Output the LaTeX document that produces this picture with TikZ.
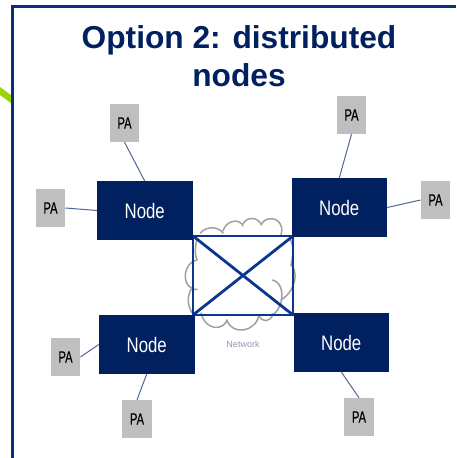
\documentclass[tikz,border=0pt]{standalone}
\usepackage{fontspec}
\setmainfont{Liberation Sans}
\definecolor{navy}{HTML}{002060}
\definecolor{framec}{HTML}{0A2F78}
\definecolor{linkc}{HTML}{4F6796}
\definecolor{xc}{HTML}{0B3690}
\definecolor{pag}{HTML}{BFBFBF}
\definecolor{cloudc}{HTML}{A0A0A0}
\definecolor{netc}{HTML}{8E99AD}
\definecolor{greenc}{HTML}{99D600}
\tikzset{
  nodebox/.style={fill=navy,draw=none,minimum width=95.5pt,minimum height=58.5pt,inner sep=0pt,text=white},
  pabox/.style={fill=pag,draw=none,minimum width=29.5pt,minimum height=38pt,inner sep=0pt,text=black},
  link/.style={draw=linkc,line width=1pt},
  cross/.style={draw=xc,line width=2.8pt,line cap=round,line join=round},
  cloudline/.style={draw=cloudc,line width=1.5pt,line cap=round},
}
\newcommand{\labN}{\scalebox{0.8}[1]{\fontsize{21}{21}\selectfont Node}}
\newcommand{\labP}{\scalebox{0.68}[1]{\fontsize{16.5}{16.5}\selectfont\addfontfeatures{FakeBold=0.5}PA}}
\begin{document}
\begin{tikzpicture}[x=1pt,y=-1pt]
\useasboundingbox (0,0) rectangle (456,458);
\fill[white] (0,0) rectangle (456,458);
% green stripe and frame
\fill[greenc] (0,87) -- (11.5,95.5) -- (11.5,103.5) -- (0,95) -- cycle;
\draw[framec,line width=2.5pt] (12.5,458) -- (12.5,6.5) -- (456,6.5);
% title
\node[text=navy,font=\bfseries\fontsize{31.7}{38}\selectfont,align=center,inner sep=0pt] (title) at (239,56) {Option 2: distributed\\nodes};
% cloud
\begin{scope}[cloudline]
\draw (200.5,233) .. controls (206,226) and (218,226) .. (223,233);
\draw (223,231) .. controls (226,220) and (240,218) .. (243,226);
\draw (243,224) .. controls (247,216) and (258,217) .. (261.5,225);
\draw (261.5,224) .. controls (266,216) and (279,217) .. (281.5,227) .. controls (282,230) and (282,232) .. (281,235);
\draw (290,239) .. controls (293,243) and (294,252) .. (291,265);
\draw (291,265) .. controls (298,270) and (297,290) .. (281,300);
\draw (272.5,280) .. controls (282,282) and (284,296) .. (280,305) .. controls (277,312) and (274,315) .. (272,314);
\draw (259,316) .. controls (262,322) and (270,323) .. (273,314);
\draw (259,315) .. controls (256,332) and (232,336) .. (227,320);
\draw (227,320) .. controls (224,330) and (206,332) .. (201,313);
\draw (197,260) .. controls (184,262) and (181,284) .. (192,288);
\draw (192,288) .. controls (196,291) and (196,289) .. (197,289);
\draw (192,288) .. controls (186,296) and (188,308) .. (193,314);
\draw (197,260) .. controls (194,253) and (196,244) .. (197,238);
\end{scope}
\node[text=netc,font=\fontsize{9}{9}\selectfont,inner sep=0pt] (netlab) at (243,344) {Network};
% central square
\coordinate (sqa) at (193,236);
\coordinate (sqb) at (293,236);
\coordinate (sqc) at (293,315);
\coordinate (sqd) at (193,315);
\draw[cross] (sqa) -- (sqb) -- (sqc) -- (sqd) -- cycle;
\draw[cross] (sqa) -- (sqc);
\draw[cross] (sqb) -- (sqd);
% nodes
\node[nodebox] (n1) at (144.75,210.5) {\labN};
\node[nodebox] (n2) at (339.25,207.5) {\labN};
\node[nodebox] (n3) at (146.75,344.5) {\labN};
\node[nodebox] (n4) at (341.25,342.5) {\labN};
% PA boxes
\node[pabox] (p1) at (124.5,123) {\labP};
\node[pabox] (p2) at (50.5,208) {\labP};
\node[pabox] (p3) at (351.5,115) {\labP};
\node[pabox] (p4) at (435.5,200) {\labP};
\node[pabox] (p5) at (65.5,357) {\labP};
\node[pabox] (p6) at (137,419) {\labP};
\node[pabox] (p7) at (359,417) {\labP};
% connectors
\draw[link] (p1.south) -- (n1.north);
\draw[link] (p2.east) -- (n1.west);
\draw[link] (p3.south) -- (n2.north);
\draw[link] (p4.west) -- (n2.east);
\draw[link] (p5.east) -- (n3.west);
\draw[link] (p6.north) -- (n3.south);
\draw[link] (p7.north) -- (n4.south);
\end{tikzpicture}
\end{document}
